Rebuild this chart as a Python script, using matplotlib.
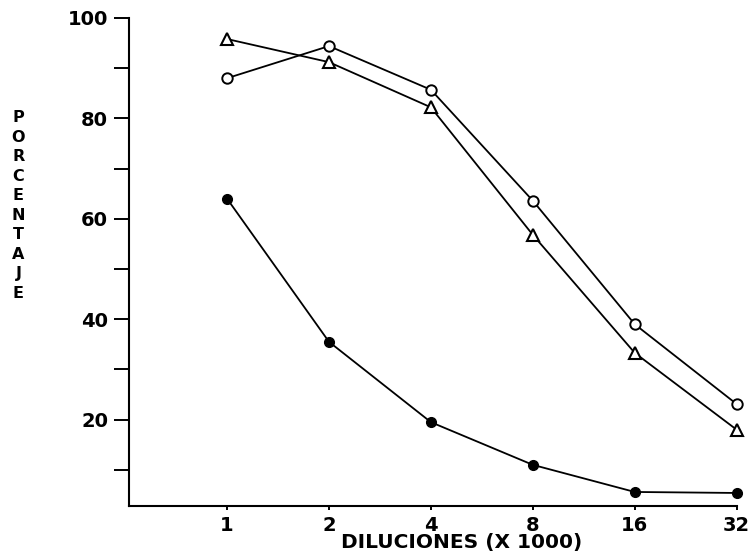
import matplotlib
matplotlib.use("Agg")
import matplotlib.pyplot as plt

diluciones = [1, 2, 4, 8, 16, 32]
tick_labels = ["1", "2", "4", "8", "16", "32"]
circulos = [88, 94.4, 85.7, 63.6, 39, 23.1]      # open circles
triangulos = [95.8, 91.2, 82.2, 56.8, 33.3, 18]  # open triangles
puntos = [64, 35.5, 19.5, 11, 5.6, 5.4]          # filled circles

fig = plt.figure(figsize=(7.54, 5.54), dpi=100)
ax = fig.add_axes([0.171, 0.0866, 0.806, 0.881])

ax.plot(diluciones, circulos, color="black", lw=1.3, marker="o", ms=7.5,
        mfc="white", mec="black", mew=1.4, clip_on=False, zorder=3)
ax.plot(diluciones, triangulos, color="black", lw=1.3, marker="^", ms=9,
        mfc="white", mec="black", mew=1.5, clip_on=False, zorder=3)
ax.plot(diluciones, puntos, color="black", lw=1.3, marker="o", ms=7,
        mfc="black", mec="black", clip_on=False, zorder=3)

ax.set_xscale("log", base=2)
ax.set_xlim(0.513, 32)
ax.set_ylim(2.8, 100)
ax.set_xticks(diluciones)
ax.set_xticklabels(tick_labels)
ax.minorticks_off()
ax.set_yticks([20, 40, 60, 80, 100])
ax.set_yticks([10, 30, 50, 70, 90], minor=True)

for s in ["top", "right"]:
    ax.spines[s].set_visible(False)
for s in ["left", "bottom"]:
    ax.spines[s].set_linewidth(1.5)

ax.tick_params(axis="y", which="both", length=11, width=1.4, pad=4,
               labelsize=14)
ax.tick_params(axis="x", length=3, width=1.4, pad=4, labelsize=14)
for lab in ax.get_xticklabels() + ax.get_yticklabels():
    lab.set_fontweight("bold")

fig.text(0.0245, 0.629, "\n".join("PORCENTAJE"), ha="center", va="center",
         fontsize=11.5, fontweight="bold", linespacing=1.38)
fig.text(0.612, 0.004, "DILUCIONES (X 1000)", ha="center", va="bottom",
         fontsize=14.5, fontweight="bold")

fig.savefig("out.png", dpi=100)
